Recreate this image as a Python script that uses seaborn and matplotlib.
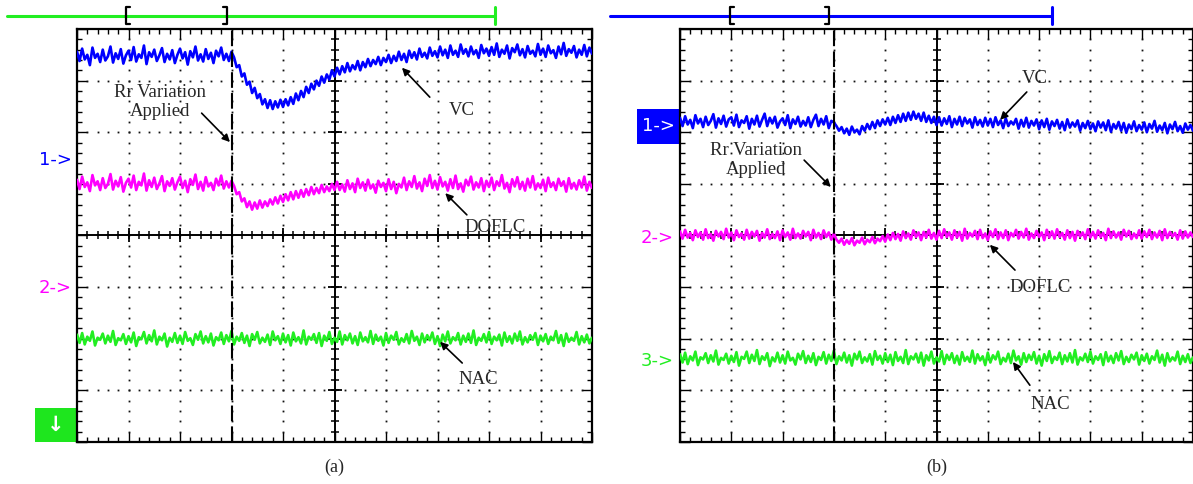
import numpy as np
import pandas as pd
import matplotlib
matplotlib.use("Agg")
import matplotlib.pyplot as plt
import seaborn as sns

# ---------------- data (hundredths of a screen division) ----------------
a_vc = [356, 338, 362, 341, 350, 330, 364, 344, 352, 336, 360, 339, 347, 366, 335, 353, 342, 361, 333, 349,
        358, 340, 365, 337, 351, 344, 368, 332, 355, 346, 360, 338, 349, 363, 336, 352, 341, 359, 334, 350,
        362, 343, 355, 331, 357, 345, 366, 339, 351, 337, 361, 342, 354, 334, 358, 347, 364, 340, 352, 338,
        356,
        345, 326, 330, 308, 314, 292, 298, 276, 286, 266, 274, 254, 264, 247, 262, 245, 260, 248, 263, 249,
        264, 252, 268, 255, 275, 262, 280, 268, 288, 276, 294, 283, 300, 290, 308, 296, 312, 302, 320, 308,
        325, 312, 328, 316, 334, 318, 330, 322, 338, 320, 336, 326, 342, 328, 340, 332, 346, 330, 344, 336,
        350, 334, 348, 338, 356, 340, 352, 336, 358, 344, 355, 341, 362, 346, 354, 343, 364, 348, 357, 345,
        366, 349, 360, 344, 368, 350, 358, 346, 370, 352, 361, 347, 366, 351, 359, 344, 369, 353, 362, 348,
        365, 350, 372, 346, 360, 352, 368, 343, 363, 355, 370, 349, 361, 345, 367, 352, 358, 347, 371, 350,
        362, 346, 368, 353, 359, 344, 366, 351, 373, 348, 361, 354, 367, 345, 360, 350, 369, 347, 364, 352]

a_doflc = [108, 90, 114, 94, 103, 86, 117, 97, 105, 88, 111, 92, 100, 119, 89, 106, 95, 113, 85, 102,
           110, 93, 116, 88, 104, 97, 120, 87, 107, 94, 112, 90, 101, 115, 86, 105, 96, 111, 89, 103,
           114, 92, 106, 84, 109, 98, 118, 90, 104, 87, 113, 95, 102, 88, 110, 97, 116, 91, 105, 93,
           106,
           96, 80, 84, 66, 72, 55, 66, 50, 64, 52, 68, 54, 66, 57, 70, 60, 74, 62, 77, 65,
           80, 68, 84, 70, 86, 73, 88, 75, 90, 78, 94, 80, 92, 82, 98, 84, 95, 86, 100, 88,
           104, 88, 99, 85, 107, 90, 101, 84, 110, 92, 103, 87, 108, 91, 99, 83, 106, 94, 102, 86,
           109, 90, 104, 82, 100, 93, 112, 88, 105, 94, 115, 91, 103, 86, 110, 96, 117, 92, 106, 89,
           113, 95, 104, 87, 109, 92, 116, 90, 101, 85, 108, 97, 114, 89, 103, 93, 111, 86, 106, 94,
           112, 88, 105, 96, 117, 91, 102, 84, 109, 95, 113, 90, 104, 87, 110, 93, 115, 89, 101, 92,
           108, 86, 112, 94, 103, 88, 110, 96, 105, 85, 111, 91, 102, 89, 107, 93, 114, 87, 104, 92]

a_nac = [-192, -208, -189, -211, -196, -204, -186, -213, -198, -202, -190, -209, -194, -206, -185, -212, -199, -203, -191, -210,
         -195, -207, -188, -214, -197, -201, -187, -209, -193, -205, -184, -211, -196, -203, -190, -215, -198, -206, -189, -208,
         -194, -210, -187, -204, -199, -212, -191, -202, -186, -209, -195, -207, -190, -213, -197, -203, -188, -210, -193, -205,
         -185, -211, -196, -204, -189, -208, -194, -214, -191, -202, -187, -209, -198, -206, -192, -212, -186, -203, -195, -210,
         -190, -207, -193, -213, -188, -205, -197, -209, -184, -211, -196, -202, -191, -208, -189, -214, -194, -204, -187, -210,
         -198, -206, -186, -211, -193, -203, -190, -209, -195, -212, -188, -205, -197, -207, -185, -210, -192, -204, -196, -213,
         -189, -208, -194, -202, -187, -211, -199, -206, -191, -209, -185, -204, -196, -212, -190, -207, -193, -203, -188, -210,
         -195, -214, -192, -205, -186, -209, -197, -203, -189, -211, -194, -206, -190, -208, -184, -212, -198, -204, -191, -207,
         -187, -210, -196, -203, -192, -213, -188, -206, -195, -209, -190, -204, -186, -211, -197, -207, -193, -202, -189, -212,
         -194, -205, -191, -210, -196, -203, -185, -208, -193, -214, -190, -206, -198, -204, -187, -211, -195, -207, -192, -209,
         -198]

b_vc = [228, 212, 231, 215, 224, 208, 233, 217, 226, 210, 230, 214, 222, 235, 209, 227, 216, 232, 211, 225,
        229, 213, 234, 210, 223, 218, 231, 207, 226, 215, 232, 211, 224, 236, 212, 228, 217, 230, 209, 221,
        227, 214, 233, 208, 225, 216, 230, 211, 222, 213, 229, 210, 224, 234, 212, 226, 215, 231, 208, 222,
        219,
        212, 203, 210, 198, 207, 195, 211, 200, 205, 196, 212, 203, 216, 206, 220, 208, 223, 212, 225, 215,
        228, 214, 230, 218, 233, 220, 236, 222, 238, 224, 240, 226, 236, 222, 238, 220, 232, 218, 230, 214,
        229, 213, 227, 216, 231, 210, 226, 215, 230, 212, 228, 217, 225, 209, 229, 214, 224, 211, 228, 213,
        226, 210, 229, 214, 223, 208, 227, 212, 221, 215, 226, 207, 224, 211, 228, 209, 222, 213, 225, 206,
        223, 210, 226, 205, 221, 212, 224, 207, 220, 204, 225, 209, 219, 211, 223, 203, 218, 208, 222, 206,
        217, 202, 221, 209, 219, 204, 223, 201, 216, 207, 220, 203, 218, 199, 215, 206, 221, 202, 214, 205,
        219, 200, 216, 207, 222, 201, 213, 204, 218, 198, 215, 206, 220, 202, 212, 199, 217, 205, 214, 203]

b_doflc = [8, -6, 11, -4, 5, -9, 10, -3, 6, -8, 12, -5, 3, -10, 9, -2, 7, -7, 13, -4,
           6, -9, 10, -3, 4, -8, 11, -6, 7, -2, 9, -10, 5, -4, 12, -7, 3, -5, 8, -9,
           10, -3, 6, -8, 13, -5, 4, -6, 9, -2, 7, -9, 11, -4, 5, -7, 10, -3, 6, -8,
           4,
           -8, -14, -6, -18, -9, -16, -5, -19, -10, -14, -4, -17, -8, -13, -3, -15, -6, -11, -1, -12,
           2, -9, 5, -7, 3, -10, 8, -5, 4, -8, 10, -3, 6, -9, 7, -4, 11, -6, 5, -8,
           9, -5, 12, -3, 6, -8, 10, -4, 7, -10, 13, -6, 5, -2, 9, -7, 11, -5, 4, -9,
           8, -3, 12, -7, 6, -5, 10, -9, 5, -2, 11, -6, 7, -4, 13, -8, 4, -5, 9, -3,
           6, -9, 11, -4, 8, -6, 12, -3, 5, -8, 10, -5, 7, -10, 9, -2, 6, -7, 12, -4,
           7, -6, 10, -3, 5, -9, 13, -5, 8, -4, 6, -8, 11, -2, 9, -7, 4, -5, 10, -6,
           8, -3, 11, -7, 6, -4, 9, -9, 12, -5, 7, -2, 5, -8, 10, -6, 8, -4, 6, -3]

b_nac = [-230, -246, -227, -249, -234, -242, -225, -251, -236, -240, -228, -247, -232, -244, -223, -250, -237, -241, -229, -248,
         -233, -245, -226, -252, -235, -239, -225, -247, -231, -243, -222, -249, -234, -241, -228, -253, -236, -244, -227, -246,
         -232, -248, -225, -242, -237, -250, -229, -240, -224, -247, -233, -245, -228, -251, -235, -241, -226, -248, -231, -243,
         -223, -249, -234, -242, -227, -246, -232, -252, -229, -240, -225, -247, -236, -244, -230, -250, -224, -241, -233, -248,
         -228, -245, -231, -251, -226, -243, -235, -247, -222, -249, -234, -240, -229, -246, -227, -252, -232, -242, -225, -248,
         -236, -244, -224, -249, -231, -241, -228, -247, -233, -250, -226, -243, -235, -245, -223, -248, -230, -242, -234, -251,
         -227, -246, -232, -240, -225, -249, -237, -244, -229, -247, -223, -242, -234, -250, -228, -245, -231, -241, -226, -248,
         -233, -252, -230, -243, -224, -247, -235, -241, -227, -249, -232, -244, -228, -246, -222, -250, -236, -242, -229, -245,
         -225, -248, -234, -241, -230, -251, -226, -244, -233, -247, -228, -242, -224, -249, -235, -245, -231, -240, -227, -250,
         -232, -243, -229, -248, -234, -241, -223, -246, -231, -252, -228, -244, -236, -242, -225, -249, -233, -245, -230, -247,
         -236]

event_div = 3.0
panel_labels = ["(a)", "(b)"]
series_names = ["VC", "DOFLC", "NAC"]

BLUE, MAGENTA, GREEN = "#0000ff", "#ff00ff", "#22ee22"

# ---------------- figure ----------------
sns.set_style("white")
plt.rcParams["font.family"] = ["Liberation Serif", "DejaVu Serif"]

W, H = 1193, 484
fig = plt.figure(figsize=(W / 100, H / 100), dpi=100)


def px_rect(x0, y0, x1, y1):
    return [x0 / W, 1 - y1 / H, (x1 - x0) / W, (y1 - y0) / H]


ax_a = fig.add_axes(px_rect(77, 29, 592, 442))
ax_b = fig.add_axes(px_rect(680, 29, 1193, 442))
over = fig.add_axes([0, 0, 1, 1], zorder=-1)
over.set_xlim(0, W)
over.set_ylim(H, 0)
over.axis("off")

xminor = np.round(np.arange(0, 10.001, 0.2), 2)
yminor = np.round(np.arange(-4, 4.001, 0.2), 2)


def scope_axes(ax):
    ax.set_xlim(0, 10)
    ax.set_ylim(-4, 4)
    ax.set_xticks(np.arange(0, 11, 1))
    ax.set_yticks(np.arange(-4, 5, 1))
    ax.set_xticks(xminor, minor=True)
    ax.set_yticks(yminor, minor=True)
    ax.set_xticklabels([])
    ax.set_yticklabels([])
    ax.tick_params(which="both", direction="in", top=True, right=True,
                   bottom=True, left=True, color="k", width=1.0)
    ax.tick_params(which="major", length=7)
    ax.tick_params(which="minor", length=3.5)
    for s in ax.spines.values():
        s.set_linewidth(1.6)
        s.set_color("black")
    # dotted grid
    for gx in [1, 2, 3, 4, 6, 7, 8, 9]:
        ax.plot([gx] * len(yminor), yminor, ls="none", marker="s", ms=1.3,
                mew=0, color="#111111", zorder=1)
    for gy in [-3, -2, -1, 1, 2, 3]:
        ax.plot(xminor, [gy] * len(xminor), ls="none", marker="s", ms=1.3,
                mew=0, color="#111111", zorder=1)
    # central cross axes
    ax.axvline(5, color="k", lw=1.4, zorder=2)
    ax.axhline(0, color="k", lw=1.4, zorder=2)
    ax.plot([5] * len(yminor), yminor, ls="none", marker="_", ms=6, mew=1.1,
            color="k", zorder=2)
    ax.plot(xminor, [0] * len(xminor), ls="none", marker="|", ms=6, mew=1.1,
            color="k", zorder=2)
    ax.plot([5] * 9, np.arange(-4, 5, 1), ls="none", marker="_", ms=10,
            mew=1.3, color="k", zorder=2)
    ax.plot(np.arange(0, 11, 1), [0] * 11, ls="none", marker="|", ms=10,
            mew=1.3, color="k", zorder=2)
    # event marker
    ax.axvline(event_div, color="k", lw=1.5, ls=(0, (7.5, 2.5)), zorder=4)


for ax in (ax_a, ax_b):
    scope_axes(ax)


def frame(vc, doflc, nac):
    n = len(vc)
    return pd.DataFrame({"x": np.linspace(0, 10, n),
                         "VC": np.array(vc) / 100.0,
                         "DOFLC": np.array(doflc) / 100.0,
                         "NAC": np.array(nac) / 100.0})


df_a = frame(a_vc, a_doflc, a_nac)
df_b = frame(b_vc, b_doflc, b_nac)

for ax, df in ((ax_a, df_a), (ax_b, df_b)):
    for name, col in zip(series_names, [BLUE, MAGENTA, GREEN]):
        sns.lineplot(data=df, x="x", y=name, ax=ax, color=col, lw=1.9,
                     estimator=None, sort=False, zorder=3)
    ax.set_xlabel("")
    ax.set_ylabel("")

# ---------------- annotations ----------------
arrow = dict(arrowstyle="-|>", color="k", lw=1.2, mutation_scale=11,
             shrinkA=0, shrinkB=0)
fs = 13.5


def note(ax, text, txy, tail, head):
    ax.text(txy[0], txy[1], text, ha="center", va="center", fontsize=fs,
            zorder=6, linespacing=1.15)
    ax.annotate("", xy=head, xytext=tail, arrowprops=arrow, zorder=6)


note(ax_a, "Rr Variation\nApplied", (1.61, 2.58), (2.42, 2.37), (2.97, 1.81))
note(ax_a, "VC", (7.48, 2.43), (6.85, 2.68), (6.31, 3.25))
note(ax_a, "DOFLC", (8.12, 0.16), (7.57, 0.40), (7.15, 0.82))
note(ax_a, "NAC", (7.79, -2.78), (7.48, -2.47), (7.05, -2.06))

note(ax_b, "Rr Variation\nApplied", (1.48, 1.46), (2.42, 1.46), (2.94, 0.94))
note(ax_b, "VC", (6.92, 3.05), (6.76, 2.78), (6.24, 2.24))
note(ax_b, "DOFLC", (7.02, -1.00), (6.53, -0.67), (6.04, -0.18))
note(ax_b, "NAC", (7.21, -3.28), (6.82, -2.90), (6.49, -2.45))

# ---------------- channel markers (pixel overlay) ----------------
sans = ["DejaVu Sans"]
fig.text(72 / W, 1 - 160 / H, "1->", color=BLUE, fontsize=13, family=sans,
         ha="right", va="center")
fig.text(72 / W, 1 - 288 / H, "2->", color=MAGENTA, fontsize=13, family=sans,
         ha="right", va="center")
over.add_patch(plt.Rectangle((35, 408), 41, 34, color="#1ee61e", lw=0))
over.text(55.5, 425, "\u2193", color="white", fontsize=15, family=sans,
          ha="center", va="center", fontweight="bold")

over.add_patch(plt.Rectangle((637, 109), 42, 35, color=BLUE, lw=0))
over.text(675, 126, "1->", color="white", fontsize=13, family=sans,
          ha="right", va="center")
fig.text(674 / W, 1 - 238 / H, "2->", color=MAGENTA, fontsize=13, family=sans,
         ha="right", va="center")
fig.text(674 / W, 1 - 361 / H, "3->", color=GREEN, fontsize=13, family=sans,
         ha="right", va="center")

# memory position bars on top
for (x0, x1, b0, b1, col) in ((7, 495, 126, 227, GREEN),
                              (610, 1052, 730, 829, BLUE)):
    over.plot([x0, x1], [15.5, 15.5], color=col, lw=2.2)
    over.plot([x1, x1], [7, 24], color=col, lw=2.2)
    over.plot([b0 + 4, b0, b0, b0 + 4], [7, 7, 24, 24], color="k", lw=1.6)
    over.plot([b1 - 4, b1, b1, b1 - 4], [7, 7, 24, 24], color="k", lw=1.6)

# captions
over.text(334, 467, panel_labels[0], fontsize=13, ha="center", va="center")
over.text(937, 467, panel_labels[1], fontsize=13, ha="center", va="center")

fig.savefig("out.png", dpi=100)
